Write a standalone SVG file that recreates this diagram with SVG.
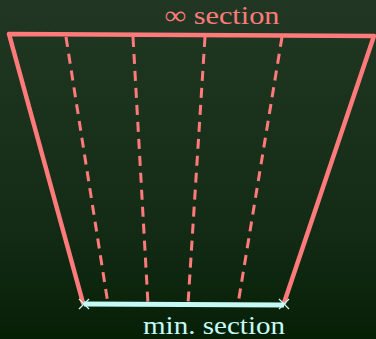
<svg xmlns="http://www.w3.org/2000/svg" width="376" height="339" viewBox="0 0 376 339">
<defs>
<linearGradient id="bg" x1="0" y1="0" x2="0" y2="1">
<stop offset="0" stop-color="#213723"/>
<stop offset="0.65" stop-color="#142c16"/>
<stop offset="1" stop-color="#062006"/>
</linearGradient>
</defs>
<style>
.edge{stroke:#ff7b7b;stroke-width:4.5;fill:none;stroke-linecap:round;stroke-linejoin:round}
.dash{stroke:#ff7b7b;stroke-width:3;fill:none;stroke-dasharray:10,7}
.lbl{font-family:"Liberation Serif","DejaVu Serif",serif;font-size:26px;text-anchor:middle}
</style>
<rect width="376" height="339" fill="url(#bg)"/>
<g id="connectors">
<path class="dash" d="M66,37 L108,304"/>
<path class="dash" d="M133,37 L148,304"/>
<path class="dash" d="M205,37 L188,304"/>
<path class="dash" d="M282,37 L238,304"/>
</g>
<g id="section">
<path class="edge" d="M83,303 L9,34 L374,36 L284,303"/>
</g>
<g id="min">
<line x1="84" y1="304" x2="284" y2="305" stroke="#c4fbf6" stroke-width="5"/>
<path d="M79,299 L89,309 M79,309 L89,299 M279,299 L289,309 M279,309 L289,299" stroke="#c4fbf6" stroke-width="1.2"/>
</g>
<g id="labels">
<text class="lbl" x="222" y="24" fill="#ff7b7b" textLength="115" lengthAdjust="spacingAndGlyphs">∞ section</text>
<text class="lbl" x="214" y="334" fill="#c4fbf6" textLength="142" lengthAdjust="spacingAndGlyphs">min. section</text>
</g>
</svg>
